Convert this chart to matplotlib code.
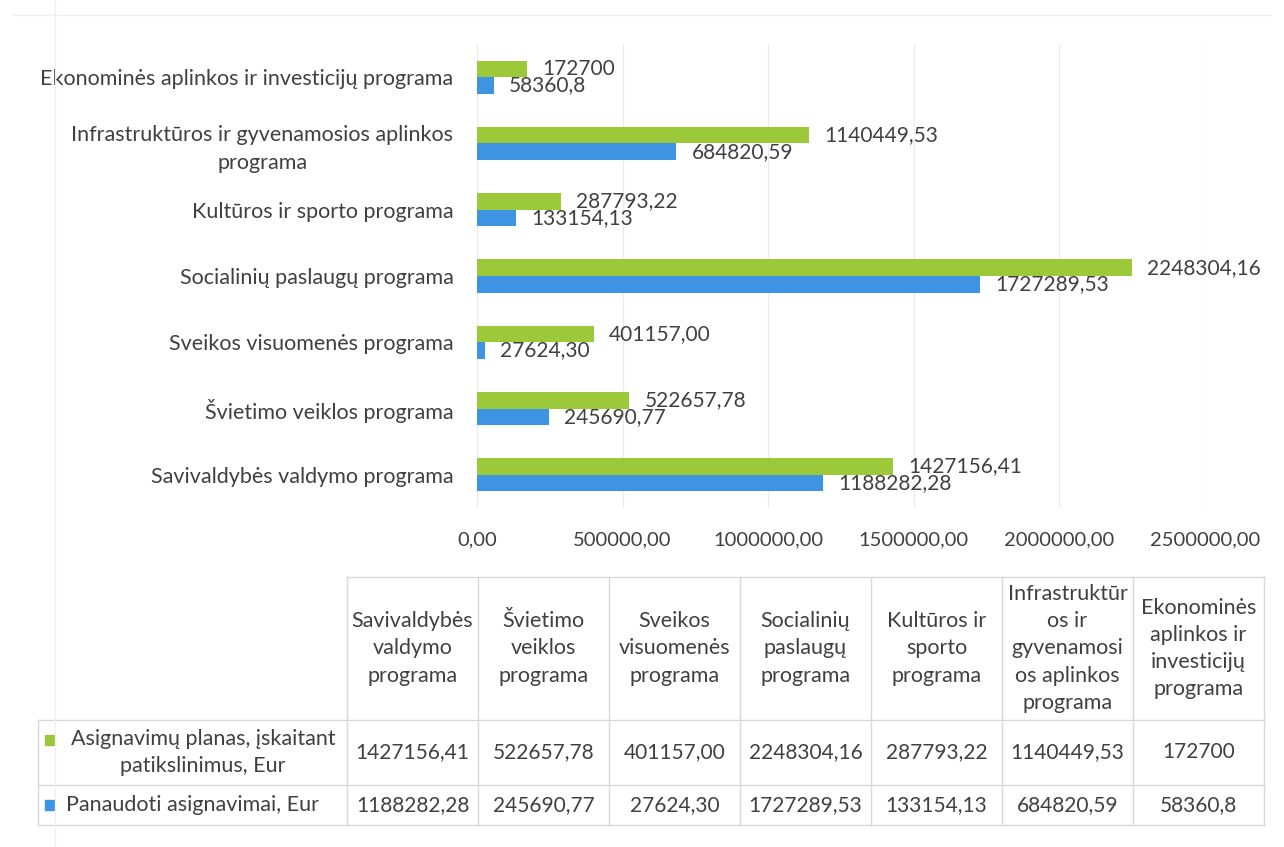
import matplotlib.pyplot as plt
from matplotlib.patches import Rectangle
from matplotlib.lines import Line2D

plt.rcParams['font.family'] = ['Lato', 'DejaVu Sans']

# kategorijos (iš apačios į viršų, kaip grafike)
programos = [
    "Savivaldybės valdymo programa",
    "Švietimo veiklos programa",
    "Sveikos visuomenės programa",
    "Socialinių paslaugų programa",
    "Kultūros ir sporto programa",
    "Infrastruktūros ir gyvenamosios aplinkos\nprograma",
    "Ekonominės aplinkos ir investicijų programa",
]
# lentelės antraštės (sulaužytos kaip originale)
antrastes = [
    "Savivaldybės\nvaldymo\nprograma",
    "Švietimo\nveiklos\nprograma",
    "Sveikos\nvisuomenės\nprograma",
    "Socialinių\npaslaugų\nprograma",
    "Kultūros ir\nsporto\nprograma",
    "Infrastruktūr\nos ir\ngyvenamosi\nos aplinkos\nprograma",
    "Ekonominės\naplinkos ir\ninvesticijų\nprograma",
]
planas_txt = ["1427156,41", "522657,78", "401157,00", "2248304,16",
              "287793,22", "1140449,53", "172700"]
panaudota_txt = ["1188282,28", "245690,77", "27624,30", "1727289,53",
                 "133154,13", "684820,59", "58360,8"]
planas = [float(s.replace(",", ".")) for s in planas_txt]
panaudota = [float(s.replace(",", ".")) for s in panaudota_txt]

serija_planas = "Asignavimų planas, įskaitant\npatikslinimus, Eur"
serija_panaudota = "Panaudoti asignavimai, Eur"
x_ticks = [0, 500000, 1000000, 1500000, 2000000, 2500000]

ZALIA = "#9BC93A"
MELYNA = "#3F93E3"
TEKSTAS = "#404040"
LINIJA = "#D9D9D9"
FS = 15.5   # kategorijų pavadinimai
FN = 15     # skaičiai

W, H = 1284, 847
fig = plt.figure(figsize=(W / 100, H / 100), dpi=100)

# --- stulpelinė diagrama ---
ax = fig.add_axes([477 / W, 1 - 508 / H, (1205 - 477) / W, (508 - 44) / H])
y = list(range(len(programos)))
h = 0.25
b1 = ax.barh([v + h / 2 for v in y], planas, height=h, color=ZALIA, zorder=2)
b2 = ax.barh([v - h / 2 for v in y], panaudota, height=h, color=MELYNA, zorder=2)
ax.bar_label(b1, labels=planas_txt, padding=11, fontsize=FN, color=TEKSTAS)
ax.bar_label(b2, labels=panaudota_txt, padding=11, fontsize=FN, color=TEKSTAS)

ax.set_xlim(0, 2500000)
ax.set_ylim(-0.5, len(programos) - 0.5)
ax.set_xticks(x_ticks)
ax.set_xticklabels([f"{t:.2f}".replace(".", ",") for t in x_ticks],
                   fontsize=14.5, color=TEKSTAS)
ax.set_yticks(y)
ax.set_yticklabels(programos, fontsize=FS, color=TEKSTAS,
                   multialignment="center", linespacing=1.5)
ax.tick_params(axis="both", length=0)
ax.tick_params(axis="x", pad=17)
ax.tick_params(axis="y", pad=17)
ax.grid(axis="x", color="#ECECEC", linewidth=0.9, zorder=0)
for s in ax.spines.values():
    s.set_visible(False)

# --- duomenų lentelė ---
tb = fig.add_axes([0, 0, 1, 1])
tb.set_xlim(0, W)
tb.set_ylim(H, 0)
tb.axis("off")

x0, cw = 347, 131
y_top, y_h, y_r1, y_r2 = 577, 720, 785, 825
n = len(antrastes)
x_end = x0 + n * cw

kw = dict(color=LINIJA, linewidth=1)
tb.plot([x0, x_end], [y_top, y_top], **kw)
tb.plot([38, x_end], [y_h, y_h], **kw)
tb.plot([38, x_end], [y_r1, y_r1], **kw)
tb.plot([38, x_end], [y_r2, y_r2], **kw)
tb.plot([38, 38], [y_h, y_r2], **kw)
for i in range(n + 1):
    tb.plot([x0 + i * cw, x0 + i * cw], [y_top, y_r2], **kw)

for i, a in enumerate(antrastes):
    cx = x0 + (i + 0.5) * cw
    tb.text(cx, (y_top + y_h) / 2, a, ha="center", va="center", fontsize=FS,
            color=TEKSTAS, linespacing=1.45)
    tb.text(cx, (y_h + y_r1) / 2, planas_txt[i], ha="center", va="center",
            fontsize=FN, color=TEKSTAS)
    tb.text(cx, (y_r1 + y_r2) / 2, panaudota_txt[i], ha="center", va="center",
            fontsize=FN, color=TEKSTAS)

# eilučių pavadinimai su legendos žymekliais
tb.add_patch(Rectangle((45, 735), 9, 10, color=ZALIA))
tb.text(203, (y_h + y_r1) / 2, serija_planas, ha="center", va="center",
        fontsize=FS, color=TEKSTAS, multialignment="center", linespacing=1.45)
tb.add_patch(Rectangle((45, 800), 9, 10, color=MELYNA))
tb.text(66, (y_r1 + y_r2) / 2, serija_panaudota, ha="left", va="center",
        fontsize=FS, color=TEKSTAS)

# blankūs skenuoto lapo rėmeliai
fig.add_artist(Line2D([0.01, 0.99], [1 - 15 / H, 1 - 15 / H], color="#F0F0F0", lw=1))
fig.add_artist(Line2D([55 / W, 55 / W], [0, 1], color="#F0F0F0", lw=1))

fig.savefig("out.png", dpi=100)
